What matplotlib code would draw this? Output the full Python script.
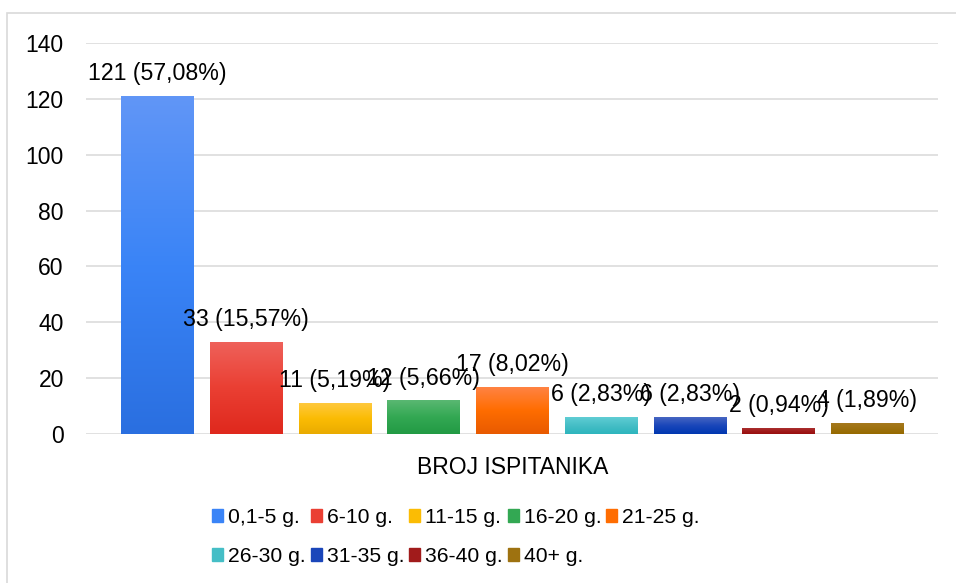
import matplotlib
matplotlib.use('Agg')
import matplotlib.pyplot as plt
import numpy as np
from matplotlib.colors import LinearSegmentedColormap
from matplotlib.patches import Rectangle

plt.rcParams['font.family'] = ['Liberation Sans', 'DejaVu Sans']

# podaci
groups = ['0,1-5 g.', '6-10 g.', '11-15 g.', '16-20 g.', '21-25 g.',
          '26-30 g.', '31-35 g.', '36-40 g.', '40+ g.']
counts = [121, 33, 11, 12, 17, 6, 6, 2, 4]
percents = ['57,08%', '15,57%', '5,19%', '5,66%', '8,02%', '2,83%', '2,83%', '0,94%', '1,89%']
category = 'BROJ ISPITANIKA'
yticks = [0, 20, 40, 60, 80, 100, 120, 140]

# boje (vrh, sredina, dno) za gradijent
colors = [
    ('#6196f6', '#3a84f7', '#2a6fe0'),
    ('#ef625b', '#ea3f33', '#df281d'),
    ('#ffc93e', '#fbbc04', '#e9ab00'),
    ('#5ab872', '#33a853', '#229a44'),
    ('#ff8446', '#ff6d01', '#e85a00'),
    ('#60cdd4', '#45bec6', '#2db5bd'),
    ('#4766c2', '#1a46ba', '#0037b0'),
    ('#a93030', '#a11b1b', '#980e0e'),
    ('#a77a20', '#9e7210', '#966a00'),
]

fs = 16.7

fig = plt.figure(figsize=(9.56, 5.83), dpi=100)
ax = fig.add_axes([0.09, 0.2556, 0.891, 0.6706])

# okvir
fig.patches.append(Rectangle((0.0073, -0.2), 1.2, 0.9777 + 0.2, transform=fig.transFigure,
                             fill=False, edgecolor='#d9d9d9', linewidth=1.2, zorder=0))

x = np.arange(len(counts))
bars = ax.bar(x, counts, width=0.82, color=[c[1] for c in colors], zorder=2)

# gradijent na stupcima
grad = np.linspace(0, 1, 256).reshape(-1, 1)
for b, c in zip(bars, colors):
    cmap = LinearSegmentedColormap.from_list('g', [c[0], c[1], c[2]])
    x0, y0 = b.get_x(), b.get_y()
    im = ax.imshow(grad, cmap=cmap, aspect='auto', origin='upper',
                   extent=(x0, x0 + b.get_width(), y0, y0 + b.get_height()),
                   zorder=3, interpolation='bilinear')
    im.set_clip_path(b)

for xi, v, p in zip(x, counts, percents):
    ax.annotate(f'{v} ({p})', (xi, v), xytext=(0, 11.5), textcoords='offset points',
                ha='center', va='baseline', fontsize=fs, color='#000000', zorder=5)

ax.set_xlim(-0.806, 8.794)
ax.set_ylim(0, 140)
ax.set_yticks(yticks)
ax.set_xticks([4])
ax.set_xticklabels([category])
ax.tick_params(axis='both', length=0, labelsize=16.5, colors='#000000')
ax.tick_params(axis='y', pad=16)
ax.tick_params(axis='x', pad=16)
ax.grid(axis='y', color='#d9d9d9', linewidth=1.1, zorder=0)
ax.set_axisbelow(True)
for s in ax.spines.values():
    s.set_visible(False)

# legenda red po red
handles = [Rectangle((0, 0), 1, 1, color=c[1]) for c in colors]
order = [0, 5, 1, 6, 2, 7, 3, 8, 4]
ax.legend([handles[i] for i in order], [groups[i] for i in order],
          ncol=5, loc='upper left', bbox_to_anchor=(0.222, 0.129), bbox_transform=fig.transFigure,
          frameon=False, fontsize=15.2, handlelength=0.53, handleheight=0.53,
          handletextpad=0.24, columnspacing=0.22, labelspacing=0.95, borderpad=0, borderaxespad=0)

plt.savefig('out.png', dpi=100)
